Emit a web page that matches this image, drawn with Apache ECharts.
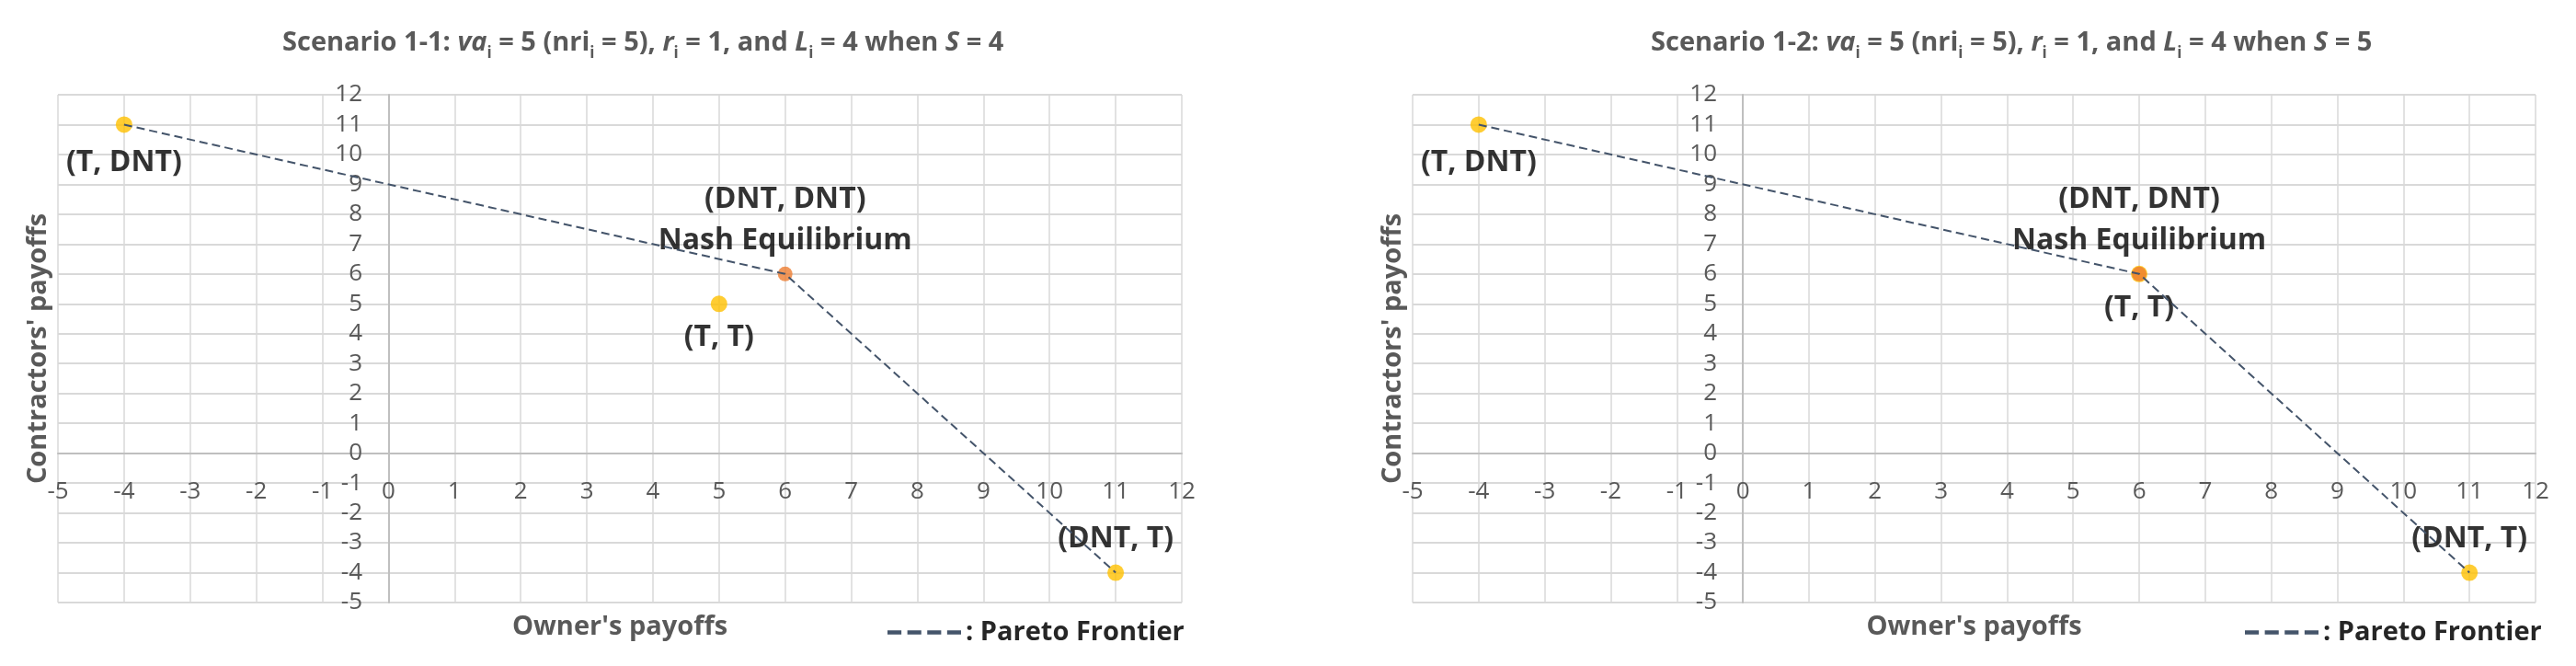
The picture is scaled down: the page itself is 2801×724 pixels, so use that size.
<!DOCTYPE html>
<html>
<head>
<meta charset="utf-8">
<title>Pareto frontier scenarios</title>
<script src="https://cdn.jsdelivr.net/npm/echarts@6/dist/echarts.min.js"></script>
<style>
  html, body { margin: 0; padding: 0; background: #fff; }
  #chart { width: 2801px; height: 724px; }
</style>
</head>
<body>
<div id="chart"></div>
<script>
// outcome profiles (owner's payoff, contractors' payoff)
const outcomes = ['(T, DNT)', '(T, T)', '(DNT, T)']
const owner1 = [-4, 5, 11]
const contractors1 = [11, 5, -4]
const owner2 = [-4, 6, 11]
const contractors2 = [11, 6, -4]

// (DNT, DNT) - Nash equilibrium, same in both scenarios
const nashLines = ['(DNT, DNT)', 'Nash Equilibrium']
const nashOwner = 6
const nashContractors = 6

// Pareto frontier vertices
const frontierOwner = [-4, 6, 11]
const frontierContractors = [11, 6, -4]

// axis range / ticks
const axisMin = -5
const axisMax = 12
const tickStep = 1

const font = 'Open Sans'
const grey = '#595959'
const labelPos = { '(T, DNT)': ['bottom', 12], '(T, T)': ['bottom', 8], '(DNT, T)': ['top', 8] }

const grids = [
  { left: 63, top: 103, width: 1222, height: 552, outerBoundsMode: 'none', containLabel: false },
  { left: 1536, top: 103, width: 1221, height: 552, outerBoundsMode: 'none', containLabel: false }
]

// labels sit next to the zero lines, not at the plot edges
const zeroFrac = (0 - axisMin) / (axisMax - axisMin)

function titleText(n, s) {
  return 'Scenario 1-' + n + ': {i|va}{s|i} = 5 (nri{s|i} = 5), {i|r}{s|i} = 1, and {i|L}{s|i} = 4 when {i|S} = ' + s
}

const titleRich = {
  i: { fontFamily: font, fontSize: 29, fontWeight: 'bold', fontStyle: 'italic', color: grey, lineHeight: 40 },
  s: { fontFamily: font, fontSize: 17, fontWeight: 'bold', color: grey, lineHeight: 16, verticalAlign: 'bottom' }
}

function xAxisFor(gi) {
  return {
    type: 'value', gridIndex: gi, min: axisMin, max: axisMax, interval: tickStep,
    name: "Owner's payoffs", nameLocation: 'middle', nameGap: 12,
    nameTextStyle: { fontFamily: font, fontSize: 29, fontWeight: 'bold', color: grey },
    axisLine: { onZero: true, lineStyle: { color: '#BFBFBF', width: 2 } },
    axisTick: { show: false },
    axisLabel: {
      margin: 29 - Math.round(grids[gi].height * zeroFrac),
      fontFamily: font, fontSize: 26, color: grey, showMinLabel: true, showMaxLabel: true
    },
    splitLine: { lineStyle: { color: '#D9D9D9', width: 1.5 } }
  }
}

function yAxisFor(gi) {
  return {
    type: 'value', gridIndex: gi, min: axisMin, max: axisMax, interval: tickStep,
    name: "Contractors' payoffs", nameLocation: 'middle', nameRotate: 90, nameGap: 7,
    nameTextStyle: { fontFamily: font, fontSize: 29, fontWeight: 'bold', color: grey },
    axisLine: { onZero: true, lineStyle: { color: '#BFBFBF', width: 2 } },
    axisTick: { show: false },
    axisLabel: {
      margin: 28 - Math.round(grids[gi].width * zeroFrac),
      fontFamily: font, fontSize: 26, color: grey, showMinLabel: true, showMaxLabel: true
    },
    splitLine: { lineStyle: { color: '#D9D9D9', width: 2 } }
  }
}

const pointLabel = { show: true, fontFamily: font, fontSize: 32, fontWeight: 'bold', color: '#000', lineHeight: 40 }

function seriesFor(gi, owner, contractors) {
  const pts = outcomes.map((name, k) => ({
    name: name,
    value: [owner[k], contractors[k]],
    label: { position: labelPos[name][0], distance: labelPos[name][1] }
  }))
  return [
    {
      name: 'Pareto Frontier', type: 'line', xAxisIndex: gi, yAxisIndex: gi, z: 5,
      symbol: 'none', color: '#44546A',
      lineStyle: { color: '#44546A', width: 2, type: [9, 5] },
      data: frontierOwner.map((x, k) => [x, frontierContractors[k]])
    },
    {
      name: 'Outcome', type: 'scatter', xAxisIndex: gi, yAxisIndex: gi, z: 3,
      symbolSize: 18, itemStyle: { color: '#FFC000' },
      label: Object.assign({ formatter: p => p.name }, pointLabel),
      data: pts
    },
    {
      name: 'Nash', type: 'scatter', xAxisIndex: gi, yAxisIndex: gi, z: 4,
      symbolSize: 16, itemStyle: { color: '#ED7D31' },
      label: Object.assign({}, pointLabel, { formatter: nashLines.join('\n'), position: 'top', distance: 5, lineHeight: 45 }),
      data: [[nashOwner, nashContractors]]
    }
  ]
}

const legendFor = (left) => ({
  left: left, top: 668, orient: 'horizontal',
  data: ['Pareto Frontier'],
  icon: 'path://M0 0H14V4H0Z M20 0H34V4H20Z M40 0H54V4H40Z M60 0H74V4H60Z',
  itemWidth: 80, itemHeight: 5,
  formatter: ': Pareto Frontier',
  textStyle: { fontFamily: font, fontSize: 29, fontWeight: 'bold', color: '#262626' }
})

const chart = echarts.init(document.getElementById('chart'))
chart.setOption({
  backgroundColor: '#fff',
  animation: false,
  title: [
    { text: titleText(1, 4), left: 302, top: 22, textStyle: { fontFamily: font, fontSize: 29, fontWeight: 'bold', color: grey, lineHeight: 40, rich: titleRich } },
    { text: titleText(2, 5), left: 1790, top: 22, textStyle: { fontFamily: font, fontSize: 29, fontWeight: 'bold', color: grey, lineHeight: 40, rich: titleRich } }
  ],
  legend: [legendFor(960), legendFor(2436)],
  grid: grids,
  xAxis: [xAxisFor(0), xAxisFor(1)],
  yAxis: [yAxisFor(0), yAxisFor(1)],
  series: [].concat(seriesFor(0, owner1, contractors1), seriesFor(1, owner2, contractors2))
})
</script>
</body>
</html>
